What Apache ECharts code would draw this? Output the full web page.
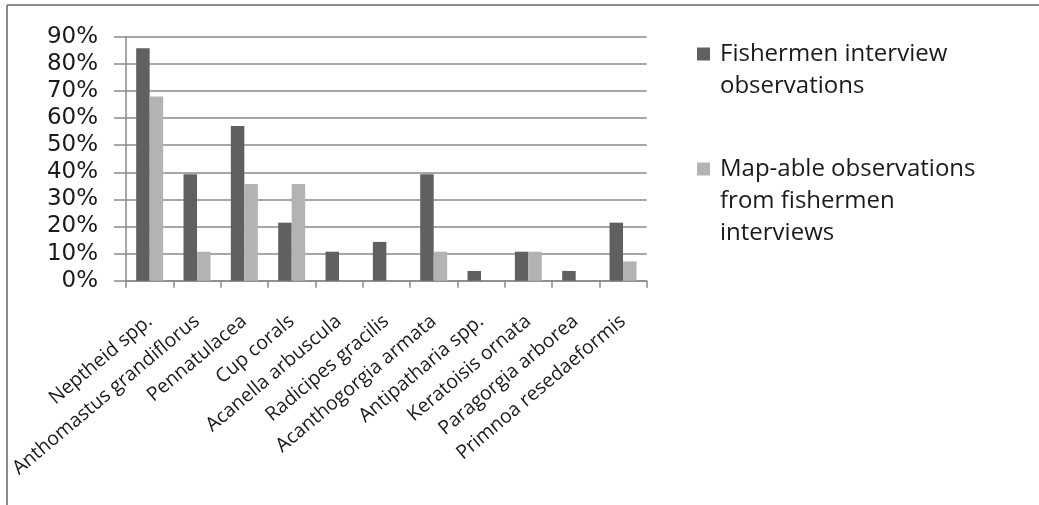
<!DOCTYPE html>
<html>
<head>
<meta charset="utf-8">
<script src="https://cdn.jsdelivr.net/npm/echarts@6/dist/echarts.min.js"></script>
<style>
  html, body { margin: 0; padding: 0; background: #fff; }
  #chart { width: 1039px; height: 505px; }
</style>
</head>
<body>
<div id="chart"></div>
<script>
const categories = [
  'Neptheid spp.', 'Anthomastus grandiflorus', 'Pennatulacea', 'Cup corals',
  'Acanella arbuscula', 'Radicipes gracilis', 'Acanthogorgia armata',
  'Antipatharia spp.', 'Keratoisis ornata', 'Paragorgia arborea', 'Primnoa resedaeformis'
];
const seriesNames = ['Fishermen interview observations', 'Map-able observations from fishermen interviews'];
const legendLines = [
  ['Fishermen interview', 'observations'],
  ['Map-able observations', 'from fishermen', 'interviews']
];
const fishermen = [0.857, 0.393, 0.571, 0.214, 0.107, 0.143, 0.393, 0.036, 0.107, 0.036, 0.214];
const mapable   = [0.679, 0.107, 0.357, 0.357, 0, 0, 0.107, 0, 0.107, 0, 0.071];
const yTicks = [0, 0.1, 0.2, 0.3, 0.4, 0.5, 0.6, 0.7, 0.8, 0.9];

const chart = echarts.init(document.getElementById('chart'), null, { renderer: 'canvas' });
const LH = 32;
const legendFont = { fontFamily: 'Open Sans', fontSize: 24, color: '#1a1a1a', lineHeight: LH, padding: [0, 0, 0, 5] };
// leading blank lines keep the icon level with the first text line
function legendText(lines) {
  return new Array(lines.length - 1).fill(' ').concat(lines).join('\n');
}
const iconCenters = [54, 169];
const option = {
  animation: false,
  backgroundColor: '#ffffff',
  grid: { left: 126, top: 36.7, right: 392.3, bottom: 224.3, containLabel: false },
  legend: [0, 1].map(i => ({
    orient: 'vertical', left: 697,
    top: iconCenters[i] - LH * (2 * legendLines[i].length - 1) / 2,
    padding: 0,
    itemWidth: 13, itemHeight: 13, icon: 'rect', selectedMode: false,
    data: [{ name: seriesNames[i] }],
    formatter: () => legendText(legendLines[i]),
    textStyle: legendFont
  })),
  xAxis: {
    type: 'category',
    data: categories,
    boundaryGap: true,
    axisLine: { show: true, lineStyle: { color: '#8a8a8a', width: 1.5 } },
    axisTick: { show: true, length: 7, alignWithLabel: false, interval: 0, lineStyle: { color: '#8a8a8a', width: 1.5 } },
    axisLabel: {
      interval: 0, rotate: 40, margin: 38,
      fontFamily: 'Open Sans', fontSize: 19.5, color: '#1a1a1a'
    }
  },
  yAxis: {
    type: 'value',
    min: 0, max: 0.9, interval: 0.1,
    axisLine: { show: true, lineStyle: { color: '#8a8a8a', width: 1.5 } },
    axisTick: { show: true, length: 12, inside: false, lineStyle: { color: '#8a8a8a', width: 1.5 } },
    splitLine: { show: true, lineStyle: { color: '#8a8a8a', width: 1.5 } },
    axisLabel: {
      margin: 28, fontFamily: 'DejaVu Sans', fontSize: 23, color: '#1a1a1a',
      formatter: v => {
        const t = yTicks.find(x => Math.abs(x - v) < 1e-6);
        return Math.round((t !== undefined ? t : v) * 100) + '%';
      }
    }
  },
  series: [
    {
      name: seriesNames[0], type: 'bar', data: fishermen,
      barWidth: '28.5%', barGap: '0%',
      itemStyle: { color: '#606060' }
    },
    {
      name: seriesNames[1], type: 'bar', data: mapable,
      barWidth: '28.5%', barGap: '0%',
      itemStyle: { color: '#b3b3b3' }
    }
  ],
  graphic: [
    { type: 'line', shape: { x1: 7, y1: 5, x2: 1039, y2: 5 }, style: { stroke: '#8a8a8a', lineWidth: 2 } },
    { type: 'line', shape: { x1: 7, y1: 5, x2: 7, y2: 505 }, style: { stroke: '#8a8a8a', lineWidth: 2 } }
  ]
};
chart.setOption(option);
</script>
</body>
</html>
